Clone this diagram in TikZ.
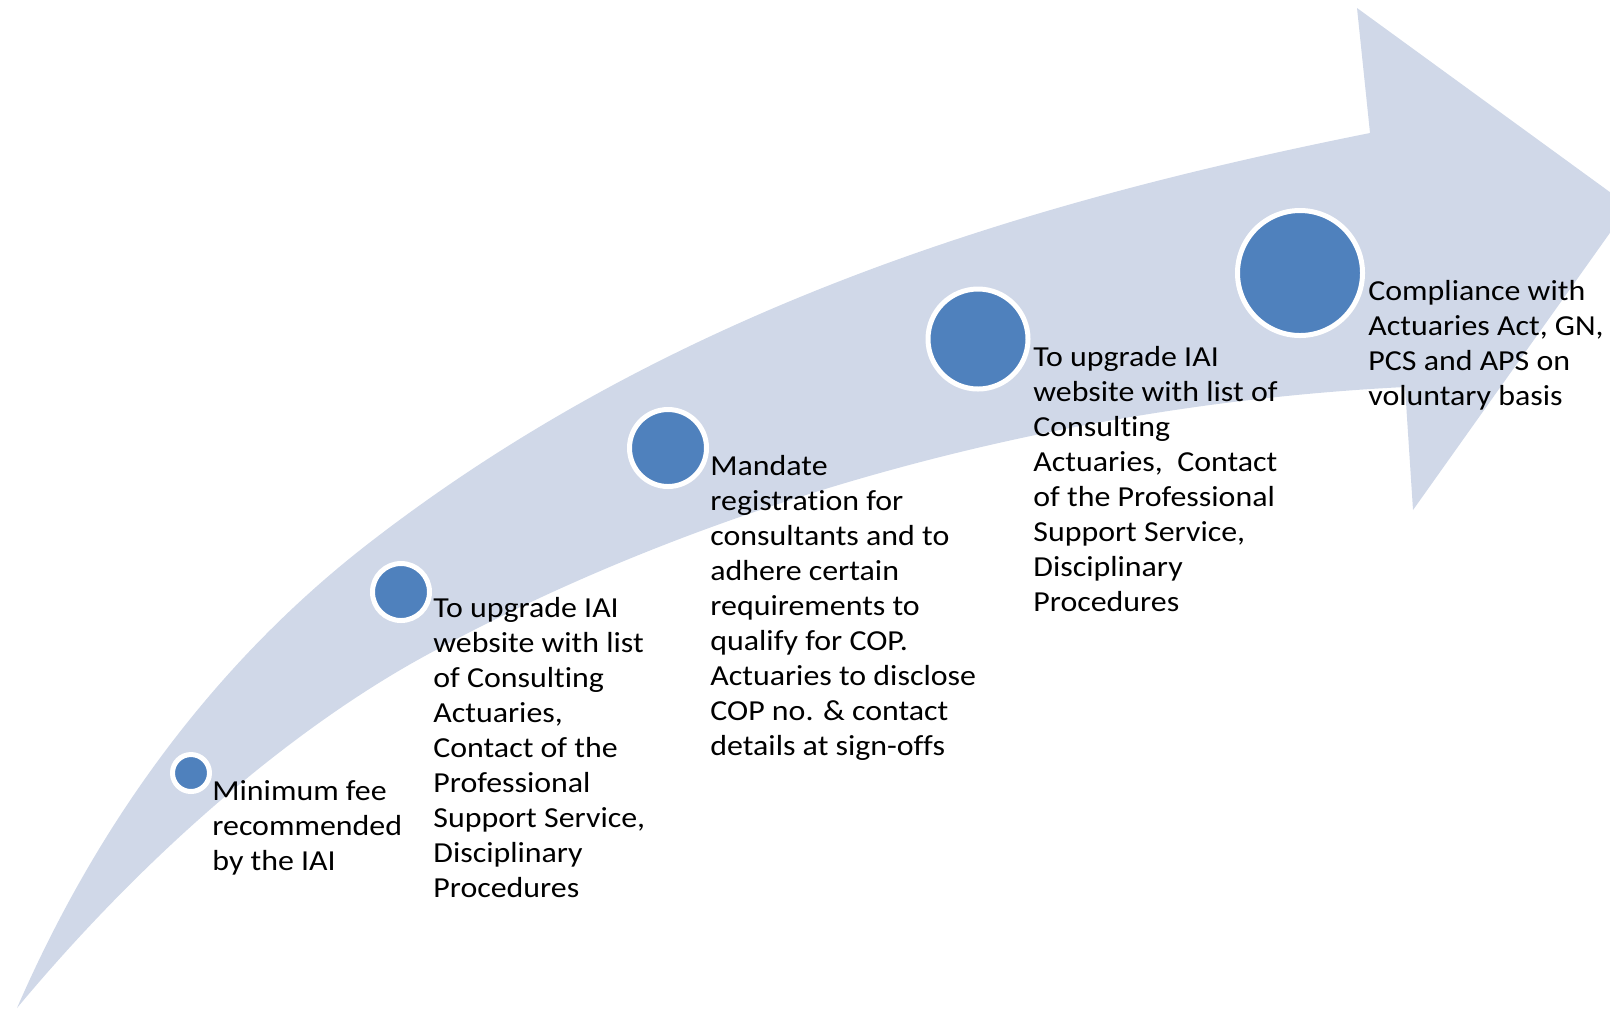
\documentclass[tikz,border=0pt]{standalone}
\usepackage{fontspec}
\setmainfont{Carlito}[FakeStretch=1.1,RawFeature=-liga]
\definecolor{shaft}{HTML}{D0D8E8}
\definecolor{dotblue}{HTML}{4F81BD}
\begin{document}
\begin{tikzpicture}[x=0.5pt,y=-0.5pt,
	stage dot/.style={circle,fill=dotblue,draw=white,line width=2.5pt,inner sep=0pt},
	stage text/.style={anchor=base west,inner sep=0pt,align=left,font=\fontsize{14.5pt}{17.5pt}\selectfont}]
		\useasboundingbox (0,0) rectangle (1610,1009);
		\clip (0,0) rectangle (1610,1009);
		% curved arrow
		\fill[shaft] (17,1008) .. controls (117,778) and (253,632) .. (373,540)
		.. controls (673,309) and (1020,203) .. (1370,133)
		-- (1357,8) -- (1629,206) -- (1413,510) -- (1405,387)
		.. controls (1055,404.5) and (703,503) .. (423,657)
		.. controls (293,728.5) and (147,852) .. (17,1008) -- cycle;
		% stages (text anchored at the baseline of its last line)
		\node[stage dot,minimum size=18.5pt] (1) at (191,773) {};
		\node[stage dot,minimum size=28.5pt] (2) at (401,592) {};
		\node[stage dot,minimum size=38.5pt] (3) at (668,448) {};
		\node[stage dot,minimum size=50pt] (4) at (978,339) {};
		\node[stage dot,minimum size=62.5pt] (5) at (1300,273) {};
		\node[stage text] (t1) at (212,870) {Minimum fee\\recommended\\by the IAI};
		\node[stage text] (t2) at (433,897) {To upgrade IAI\\website with list\\of Consulting\\Actuaries,\\Contact of the\\Professional\\Support Service,\\Disciplinary\\Procedures};
		\node[stage text] (t3) at (710,755) {Mandate\\registration for\\consultants and to\\adhere certain\\requirements to\\qualify for COP.\\Actuaries to disclose\\COP no. \& contact\\details at sign-offs};
		\node[stage text] (t4) at (1033,611) {To upgrade IAI\\website with list of\\Consulting\\Actuaries,~ Contact\\of the Professional\\Support Service,\\Disciplinary\\Procedures};
		\node[stage text] (t5) at (1368,405) {Compliance with\\Actuaries Act, GN,\\PCS and APS on\\voluntary basis};
\end{tikzpicture}
\end{document}
